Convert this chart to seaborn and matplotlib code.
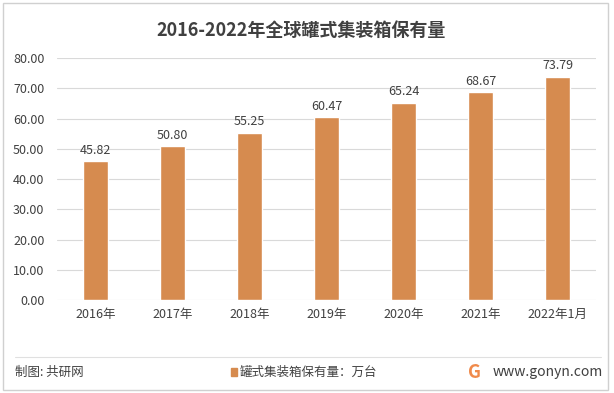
import matplotlib
matplotlib.use("Agg")
import matplotlib.pyplot as plt
import pandas as pd
import seaborn as sns
from matplotlib.patches import Rectangle

years = ["2016年", "2017年", "2018年", "2019年", "2020年", "2021年", "2022年1月"]
values = [45.82, 50.80, 55.25, 60.47, 65.24, 68.67, 73.79]
yticks = [0, 10, 20, 30, 40, 50, 60, 70, 80]

title = "2016-2022年全球罐式集装箱保有量"
series_label = "罐式集装箱保有量：万台"
BAR = "#D68B4F"
TXT = "#404040"

sns.set_theme(style="white")
plt.rcParams["font.family"] = ["Noto Sans CJK SC", "DejaVu Sans"]

df = pd.DataFrame({"year": years, "value": values})

fig = plt.figure(figsize=(6.14, 3.93), dpi=100)
ax = fig.add_axes([57 / 614, 1 - 300 / 393, (596 - 57) / 614, (300 - 58) / 393])

sns.barplot(data=df, x="year", y="value", color=BAR, width=0.32, ax=ax,
            saturation=1)
for i, v in enumerate(values):
    ax.text(i, v + 1.5, f"{v:.2f}", ha="center", va="bottom", fontsize=9, color=TXT)

ax.set_ylim(0, 80)
ax.set_xlim(-0.5, len(years) - 0.5)
ax.set_yticks(yticks)
ax.set_yticklabels([f"{t:.2f}" for t in yticks], fontsize=9, color=TXT)
ax.tick_params(axis="x", labelsize=9, colors=TXT, length=0, pad=6)
ax.tick_params(axis="y", length=0, pad=9)
ax.set_xlabel("")
ax.set_ylabel("")
ax.yaxis.grid(True, color="#D9D9D9", lw=0.8)
ax.set_axisbelow(True)
for s in ax.spines.values():
    s.set_visible(False)

fig.text(0.49, 1 - 30 / 393, title, ha="center", va="center", fontsize=13,
         fontweight="bold", color=TXT)

# outer frame and footer separator
fig.patches.append(Rectangle((3 / 614, 3 / 393), 605 / 614, 387 / 393,
                             transform=fig.transFigure, fill=False,
                             ec="#D0D0D0", lw=1))
fig.add_artist(plt.Line2D([15 / 614, 601 / 614], [1 - 357 / 393] * 2,
                          transform=fig.transFigure, color="#E0E0E0", lw=0.8))

fy = 1 - 372 / 393
fig.text(15 / 614, fy, "制图: 共研网", ha="left", va="center", fontsize=9, color=TXT)
fig.patches.append(Rectangle((231 / 614, fy - 4 / 393), 6 / 614, 8 / 393,
                             transform=fig.transFigure, color=BAR))
fig.text(240 / 614, fy, series_label, ha="left", va="center", fontsize=9, color=TXT)
fig.text(468 / 614, fy, "G", ha="left", va="center", fontsize=13,
         fontweight="bold", color="#F08A4B")
fig.text(603 / 614, fy, "www.gonyn.com", ha="right", va="center", fontsize=10, color=TXT)

fig.savefig("out.png", dpi=100)
